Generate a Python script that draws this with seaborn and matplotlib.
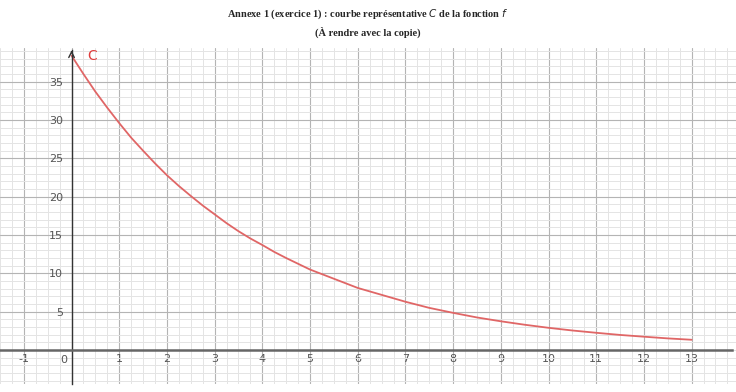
import matplotlib
matplotlib.use("Agg")
import matplotlib.pyplot as plt
from matplotlib.ticker import MultipleLocator
import seaborn as sns

# values
x_vals = [0, 0.25, 0.5, 0.75, 1, 1.25, 1.5, 1.75, 2, 2.25, 2.5, 2.75, 3,
          3.25, 3.5, 3.75, 4, 4.25, 4.5, 4.75, 5, 5.25, 5.5, 5.75, 6,
          6.5, 7, 7.5, 8, 8.5, 9, 9.5, 10, 10.5, 11, 11.5, 12, 12.5, 13]
y_vals = [38.4, 36.0, 33.7, 31.6, 29.6, 27.7, 26.0, 24.35, 22.8, 21.4,
          20.1, 18.85, 17.7, 16.55, 15.5, 14.55, 13.7, 12.8, 12.0, 11.25,
          10.5, 9.9, 9.3, 8.7, 8.1, 7.2, 6.3, 5.5, 4.85, 4.25, 3.75, 3.3,
          2.9, 2.55, 2.25, 1.97, 1.74, 1.52, 1.34]
x_ticks = [-1, 1, 2, 3, 4, 5, 6, 7, 8, 9, 10, 11, 12, 13]
y_ticks = [5, 10, 15, 20, 25, 30, 35]

sns.set_style("white")
plt.rcParams['font.family'] = ['DejaVu Sans']

fig = plt.figure(figsize=(7.36, 3.92), dpi=100)
ax = fig.add_axes([0, 8 / 392, 1, 336 / 392])
ax.set_xlim(-1.5, 13.93)
ax.set_ylim(-4.43, 39.4)

# axes through the origin
for s in ['top', 'right']:
    ax.spines[s].set_visible(False)
ax.spines['left'].set_position(('data', 0))
ax.spines['bottom'].set_position(('data', 0))
ax.spines['left'].set_color('#333333')
ax.spines['left'].set_linewidth(1.0)
ax.spines['bottom'].set_color('#666666')
ax.spines['bottom'].set_linewidth(1.8)
ax.spines['left'].set_bounds(-4.43, 39.2)
ax.spines['bottom'].set_bounds(-1.5, 13.85)

# ticks + geogebra-like grid
ax.set_xticks(list(range(-1, 14)))
ax.set_xticklabels([str(t) if t in x_ticks else '' for t in range(-1, 14)])
ax.xaxis.set_minor_locator(MultipleLocator(0.25))
ax.set_yticks(y_ticks)
ax.set_yticklabels([str(t) for t in y_ticks])
ax.yaxis.set_minor_locator(MultipleLocator(1))
ax.grid(which='minor', color='#e4e4e4', lw=0.7)
ax.grid(which='major', color='#b4b4b4', lw=0.8)
ax.set_axisbelow(True)
ax.tick_params(axis='both', which='both', length=0, labelsize=8, labelcolor='#555555')
ax.tick_params(axis='x', pad=3)
ax.tick_params(axis='y', pad=6)
ax.text(-0.1, -0.6, '0', ha='right', va='top', fontsize=8, color='#555555')

# arrows
ax.annotate('', xy=(13.95, 0), xytext=(13.7, 0),
            arrowprops=dict(arrowstyle='->', color='#555555', lw=1.0))
ax.annotate('', xy=(0, 39.45), xytext=(0, 38.5),
            arrowprops=dict(arrowstyle='->', color='#333333', lw=1.0))

sns.lineplot(x=x_vals, y=y_vals, ax=ax, color='#e06666', lw=1.3)
ax.text(0.32, 38.3, 'C', color='#e03c3c', fontsize=10, ha='left', va='center')

fig.text(0.5, 0.963,
         r'Annexe 1 (exercice 1) : courbe représentative $\mathit{C}$ de la fonction $\mathit{f}$',
         ha='center', va='center', fontsize=7.5, fontweight='bold',
         family='Liberation Serif')
fig.text(0.5, 0.918, '(À rendre avec la copie)', ha='center', va='center',
         fontsize=7.5, fontweight='bold', family='Liberation Serif')

fig.savefig('out.png', dpi=100)
